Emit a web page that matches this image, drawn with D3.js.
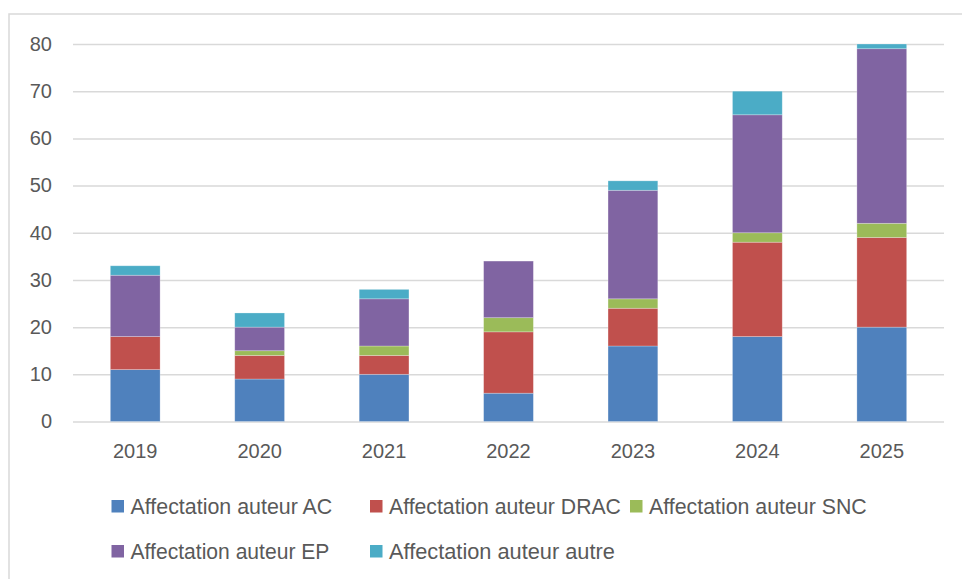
<!DOCTYPE html>
<html>
<head>
<meta charset="utf-8">
<script src="https://cdn.jsdelivr.net/npm/d3@7"></script>
<style>
  html, body { margin: 0; padding: 0; background: #ffffff; }
  svg { display: block; }
</style>
</head>
<body>
<svg id="chart" width="962" height="579"></svg>
<script>
const years = ["2019", "2020", "2021", "2022", "2023", "2024", "2025"];
const seriesNames = ["Affectation auteur AC", "Affectation auteur DRAC", "Affectation auteur SNC", "Affectation auteur EP", "Affectation auteur autre"];
const valuesAC    = [11, 9, 10, 6, 16, 18, 20];
const valuesDRAC  = [7, 5, 4, 13, 8, 20, 19];
const valuesSNC   = [0, 1, 2, 3, 2, 2, 3];
const valuesEP    = [13, 5, 10, 12, 23, 25, 37];
const valuesAutre = [2, 3, 2, 0, 2, 5, 1];
const yTicks = [0, 10, 20, 30, 40, 50, 60, 70, 80];
const colors = ["#4f81bd", "#c0504d", "#9bbb59", "#8064a2", "#4bacc6"];

const seriesValues = [valuesAC, valuesDRAC, valuesSNC, valuesEP, valuesAutre];
const rows = years.map((y, i) => {
  const r = { year: y };
  seriesNames.forEach((s, k) => { r[s] = seriesValues[k][i]; });
  return r;
});

const svg = d3.select("#chart");
const textColor = "#595959";
const gridColor = "#d9d9d9";
const font = "'Liberation Sans', Arial, sans-serif";

// outer chart frame
svg.append("rect")
  .attr("x", 9).attr("y", 14)
  .attr("width", 980).attr("height", 600)
  .attr("fill", "none")
  .attr("stroke", gridColor)
  .attr("stroke-width", 1.5);

const x = d3.scaleBand().domain(years).range([73, 944]).paddingInner(0.6).paddingOuter(0.3);
const y = d3.scaleLinear().domain([0, 80]).range([421.5, 44]);

// gridlines
const yAxis = d3.axisLeft(y).tickValues(yTicks).tickSize(-(944 - 73)).tickPadding(21).tickFormat(d3.format("d"));
const gy = svg.append("g").attr("transform", "translate(73,0)").call(yAxis);
gy.select(".domain").remove();
gy.selectAll(".tick line").attr("stroke", gridColor).attr("stroke-width", 1.5);
gy.selectAll(".tick text")
  .attr("fill", textColor)
  .style("font-family", font)
  .style("font-size", "20px");

// stacked bars
const stack = d3.stack().keys(seriesNames);
const stacked = stack(rows);
svg.append("g").selectAll("g")
  .data(stacked)
  .join("g")
  .attr("fill", (d, i) => colors[i])
  .selectAll("rect")
  .data(d => d)
  .join("rect")
  .attr("x", d => x(d.data.year))
  .attr("width", x.bandwidth())
  .attr("y", d => y(d[1]))
  .attr("height", d => Math.max(0, y(d[0]) - y(d[1])))
  .attr("stroke", "#ffffff")
  .attr("stroke-opacity", 0.35)
  .attr("stroke-width", 0.75);

// x axis labels
const xAxis = d3.axisBottom(x).tickSize(0).tickPadding(22);
const gx = svg.append("g").attr("transform", "translate(0,421.5)").call(xAxis);
gx.select(".domain").remove();
gx.selectAll(".tick text")
  .attr("fill", textColor)
  .style("font-family", font)
  .style("font-size", "20px");

// legend
const legendPos = [
  { x: 111.5, y: 514 }, { x: 370, y: 514 }, { x: 630, y: 514 },
  { x: 111.5, y: 559 }, { x: 370, y: 559 }
];
const legendWidths = [202, 232, 218, 199, 226];
const lg = svg.append("g").selectAll("g")
  .data(seriesNames)
  .join("g")
  .attr("transform", (d, i) => `translate(${legendPos[i].x},${legendPos[i].y})`);
lg.append("rect")
  .attr("x", 0).attr("y", -14)
  .attr("width", 12.5).attr("height", 12.5)
  .attr("fill", (d, i) => colors[i]);
lg.append("text")
  .attr("fill", textColor)
  .style("font-family", font)
  .style("font-size", "22px")
  .text(d => d)
  .each(function(d, i) {
    const w = this.getComputedTextLength();
    const s = legendWidths[i] / w;
    d3.select(this).attr("transform", `translate(19,0) scale(${s},1)`);
  });
</script>
</body>
</html>
